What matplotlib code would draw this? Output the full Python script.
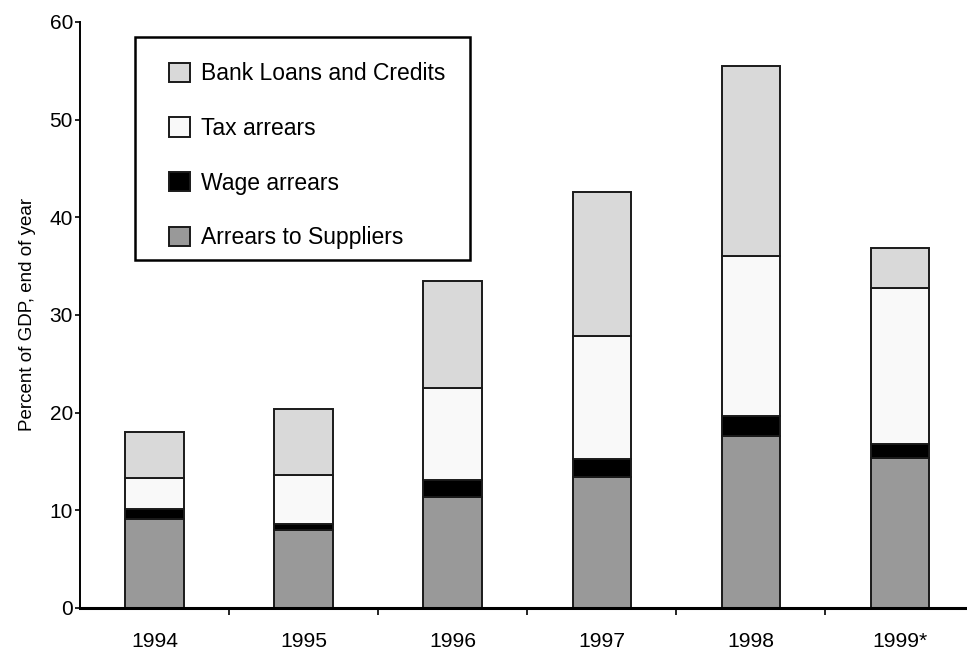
import numpy as np
import matplotlib.pyplot as plt
from matplotlib.patches import Rectangle
from matplotlib.ticker import FixedLocator

plt.rcParams['font.family'] = ['Liberation Sans', 'DejaVu Sans']

years = ['1994', '1995', '1996', '1997', '1998', '1999*']
suppliers = [9.1, 8.0, 11.4, 13.4, 17.6, 15.4]
wages = [1.0, 0.6, 1.7, 1.8, 2.1, 1.4]
taxes = [3.2, 5.0, 9.4, 12.6, 16.3, 16.0]
bank = [4.7, 6.8, 11.0, 14.8, 19.5, 4.0]

x = np.arange(len(years))
w = 0.39
edge = '#1a1a1a'

fig = plt.figure(figsize=(9.67, 6.52), dpi=100)
ax = fig.add_axes([0.0827, 0.0675, 0.917, 0.899])

b0 = np.zeros(len(years))
h_sup = ax.bar(x, suppliers, w, bottom=b0, color='#999999', edgecolor=edge, linewidth=1.4,
               label='Arrears to Suppliers')
b0 = b0 + suppliers
h_wage = ax.bar(x, wages, w, bottom=b0, color='black', edgecolor=edge, linewidth=1.4,
                label='Wage arrears')
b0 = b0 + wages
h_tax = ax.bar(x, taxes, w, bottom=b0, color='#f9f9f9', edgecolor=edge, linewidth=1.4,
               label='Tax arrears')
b0 = b0 + taxes
h_bank = ax.bar(x, bank, w, bottom=b0, color='#d9d9d9', edgecolor=edge, linewidth=1.4,
                label='Bank Loans and Credits')

ax.set_xlim(-0.5, 5.45)
ax.set_ylim(0, 60)
ax.set_yticks(np.arange(0, 61, 10))
ax.tick_params(axis='y', labelsize=15, length=3.5, width=1.2, direction='out', pad=1.5)

ax.set_xticks(x)
ax.set_xticklabels(years)
ax.tick_params(axis='x', which='major', length=0, labelsize=15.2, pad=17)
ax.xaxis.set_minor_locator(FixedLocator(x[1:] - 0.5))
ax.tick_params(axis='x', which='minor', length=5, width=1.2, direction='out')

ax.spines['top'].set_visible(False)
ax.spines['right'].set_visible(False)
ax.spines['left'].set_linewidth(1.4)
ax.spines['bottom'].set_linewidth(2.2)

ax.set_ylabel('Percent of GDP, end of year', fontsize=13.5, labelpad=10)

# legend box drawn separately so the padding can match the original
box = Rectangle((0.062, 0.594), 0.378, 0.380, transform=ax.transAxes,
                facecolor='white', edgecolor='black', linewidth=1.8, zorder=4)
ax.add_patch(box)
leg = ax.legend(handles=[h_bank, h_tax, h_wage, h_sup], loc='upper left',
                bbox_to_anchor=(0.1003, 0.931), borderaxespad=0, fontsize=16.5,
                frameon=False, handlelength=0.9, handleheight=0.9,
                labelspacing=1.38, borderpad=0, handletextpad=0.48)
leg.set_zorder(5)

fig.savefig('out.png', dpi=100)
